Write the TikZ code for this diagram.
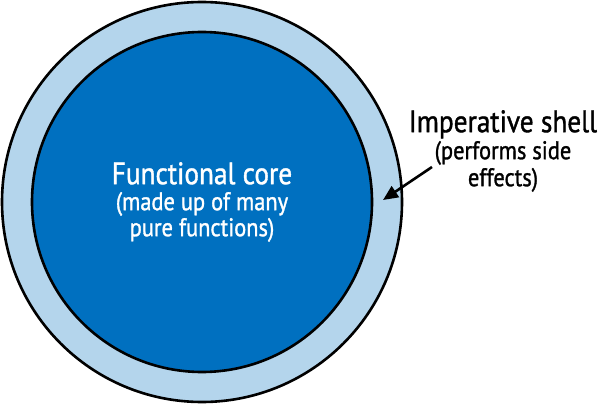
\documentclass[tikz,border=0pt]{standalone}
\usepackage{fontspec}
\setmainfont[FakeStretch=0.88, FakeBold=1.2]{PT Sans}
\usepackage{tikz}
\usetikzlibrary{positioning, arrows.meta}
\definecolor{coreblue}{RGB}{0,112,192}
\definecolor{shellblue}{RGB}{180,213,236}

\begin{document}
\begin{tikzpicture}[x=1pt, y=-1pt, >={Triangle[length=15pt, width=13pt]}, line width=2.6pt]
    \useasboundingbox (0,0) rectangle (600,404);
    % Shell
    \node[draw, circle, fill=shellblue, minimum size=400pt, inner sep=0pt] (shell) at (202,202) {};
    % Core
    \node[draw, circle, fill=coreblue, minimum size=340pt, inner sep=0pt] (core) at (202,202) {};
    \node[text=white, align=center, font=\fontsize{25.5}{26}\selectfont] (coretext) at (202,202)
      {{\fontsize{31}{32}\selectfont Functional core}\\(made up of many\\pure functions)};

    % Shell label
    \node[align=center, font=\fontsize{25.5}{27}\selectfont] (shelltext) at (503,151)
      {{\fontsize{31}{32}\selectfont Imperative shell}\\(performs side\\effects)};
    \coordinate (tip) at (383,200);
    \draw[->] (432,167) -- (tip);
  \end{tikzpicture}
\end{document}
